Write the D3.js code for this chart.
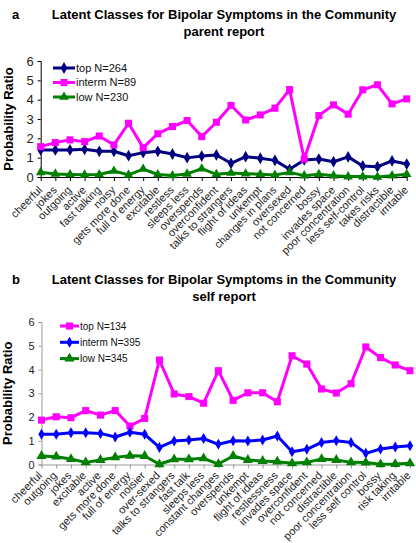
<!DOCTYPE html>
<html><head><meta charset="utf-8">
<script src="https://cdn.jsdelivr.net/npm/d3@7"></script>
<style>body{margin:0;background:#fff}svg{display:block;font-family:"Liberation Sans",Arial,Helvetica,sans-serif}</style>
</head><body><svg id="c" width="416" height="543"></svg>
<script>
const parentCats = ["cheerful","jokes","outgoing","active","fast talking","noisy","gets more done","full of energy","excitable","restless","sleeps less","overspends","overconfident","talks to strangers","flight of ideas","unkempt","changes in plans","oversexed","not concerned","bossy","invades space","poor concentration","less self-control","takes risks","distractible","irritable"];
const parentTop = [1.40,1.40,1.40,1.43,1.33,1.33,1.10,1.26,1.33,1.19,1.00,1.08,1.14,0.71,1.05,0.97,0.86,0.40,0.88,0.93,0.79,1.04,0.57,0.53,0.83,0.67];
const parentInterm = [1.57,1.78,1.92,1.83,2.12,1.66,2.78,1.52,2.24,2.61,2.92,2.09,2.83,3.70,2.95,3.21,3.56,4.52,0.93,3.18,3.73,3.25,4.51,4.77,3.78,4.04];
const parentLow = [0.24,0.16,0.13,0.11,0.13,0.31,0.11,0.41,0.13,0.08,0.16,0.43,0.14,0.21,0.17,0.14,0.10,0.24,0.07,0.14,0.07,0.02,0.02,0.00,0.07,0.14];

const selfCats = ["cheerful","outgoing","jokes","excitable","active","gets more done","full of energy","noisier","over-sexed","talks to strangers","fast talk","sleeps less","constant changes","overspends","unkempt","flight of ideas","restlessness","invades space","overconfident","not concerned","distractible","poor concentration","less self control","bossy","risk taking","irritable"];
const selfTop = [1.87,2.01,1.97,2.27,2.08,2.27,1.62,1.94,4.40,2.97,2.86,2.58,3.95,2.70,3.02,3.02,2.64,4.58,4.23,3.18,3.01,3.40,4.95,4.50,4.19,3.95];
const selfInterm = [1.27,1.27,1.34,1.34,1.31,1.16,1.36,1.27,0.72,0.99,1.03,1.09,0.85,1.00,0.99,1.03,1.20,0.54,0.64,0.93,1.00,0.93,0.47,0.65,0.74,0.79];
const selfLow = [0.36,0.33,0.23,0.09,0.19,0.30,0.37,0.36,0.01,0.22,0.22,0.26,0.02,0.36,0.19,0.15,0.12,0.05,0.09,0.23,0.19,0.09,0.08,0.01,0.02,0.05];

const yTicks = [0,1,2,3,4,5,6];

const svg = d3.select("#c");

function drawChart(o){
  const g = svg.append("g");
  const x = d3.scalePoint().domain(o.cats).range([o.x0, o.x1]);
  const y = d3.scaleLinear().domain([0,6]).range([o.y0, o.y1]);
  // titles
  g.append("text").attr("x",12).attr("y",o.tY).attr("font-size",13).attr("font-weight","bold").text(o.letter);
  g.append("text").attr("x",224).attr("y",o.tY).attr("text-anchor","middle").attr("font-size",13).attr("font-weight","bold").text("Latent Classes for Bipolar Symptoms in the Community");
  g.append("text").attr("x",224).attr("y",o.tY+17).attr("text-anchor","middle").attr("font-size",13).attr("font-weight","bold").text(o.sub);
  // y axis
  const ya = g.append("g").attr("transform",`translate(${o.x0},0)`)
    .call(d3.axisLeft(y).tickValues(yTicks).tickFormat(d3.format("d")).tickSize(3).tickPadding(4));
  ya.select(".domain").attr("stroke",o.axisColor);
  ya.selectAll(".tick line").attr("stroke",o.axisColor);
  ya.selectAll("text").attr("font-size",o.yFont).attr("fill","#222").attr("font-family","Liberation Sans, Arial, sans-serif");
  // x axis
  const xa = g.append("g").attr("transform",`translate(0,${o.y0})`)
    .call(d3.axisBottom(x).tickSize(4).tickSizeOuter(0));
  xa.select(".domain").attr("stroke",o.axisColor);
  xa.selectAll(".tick line").attr("stroke",o.axisColor);
  xa.selectAll("text").attr("font-size",11).attr("fill","#222").attr("font-family","Liberation Sans, Arial, sans-serif")
    .attr("text-anchor","end").attr("transform",`translate(${o.lblDx},${o.lblDy}) rotate(-45)`).attr("dy","0.35em").attr("y",0).attr("x",0);
  // y title
  g.append("text").attr("transform",`translate(${o.yTitleX},${(o.y0+o.y1)/2}) rotate(-90)`).attr("text-anchor","middle")
    .attr("font-size",13).attr("font-weight","bold").text("Probability Ratio");
  // series
  o.series.forEach((s,k)=>{
    const line = d3.line().x((d,i)=>x(o.cats[i])).y(d=>y(d));
    g.append("path").datum(s.values).attr("fill","none").attr("stroke",s.color).attr("stroke-width",3).attr("stroke-linejoin","round").attr("d",line);
    const sym = d3.symbol().type(s.shape).size(s.size);
    g.selectAll(null).data(s.values).enter().append("path")
      .attr("transform",(d,i)=>`translate(${x(o.cats[i])},${y(d)})`).attr("d",sym).attr("fill",s.color);
    // legend
    const ly = o.legY + k*o.legGap;
    g.append("line").attr("x1",o.legX).attr("x2",o.legX+o.legW).attr("y1",ly).attr("y2",ly).attr("stroke",s.color).attr("stroke-width",3);
    g.append("path").attr("transform",`translate(${o.legX+o.legW/2},${ly})`).attr("d",sym).attr("fill",s.color);
    g.append("text").attr("x",o.legX+o.legW+1).attr("y",ly).attr("dy","0.35em").attr("font-size",o.legFont).attr("fill","#111").text(s.name);
  });
}

drawChart({
  letter:"a", sub:"parent report", tY:19, cats:parentCats,
  x0:40.7, x1:406.7, y0:177, y1:61, axisColor:"#000", yFont:13, yTitleX:13,
  lblDx:-1, lblDy:11,
  legX:53, legW:22, legY:68, legGap:14.5, legFont:11,
  series:[
    {name:"top N=264", values:parentTop, color:"#000080", shape:d3.symbolDiamond, size:40},
    {name:"interm N=89", values:parentInterm, color:"#ff00ff", shape:d3.symbolSquare, size:50},
    {name:"low N=230", values:parentLow, color:"#008000", shape:d3.symbolTriangle, size:40}
  ]
});
drawChart({
  letter:"b", sub:"self report", tY:284, cats:selfCats,
  x0:41.5, x1:410, y0:464.5, y1:322, axisColor:"#999", yFont:11, yTitleX:12,
  lblDx:-2, lblDy:9,
  legX:60, legW:19, legY:326, legGap:16.3, legFont:10,
  series:[
    {name:"top N=134", values:selfTop, color:"#ff00ff", shape:d3.symbolSquare, size:50},
    {name:"interm N=395", values:selfInterm, color:"#0000ff", shape:d3.symbolDiamond, size:35},
    {name:"low N=345", values:selfLow, color:"#008000", shape:d3.symbolTriangle, size:45}
  ]
});
</script></body></html>
